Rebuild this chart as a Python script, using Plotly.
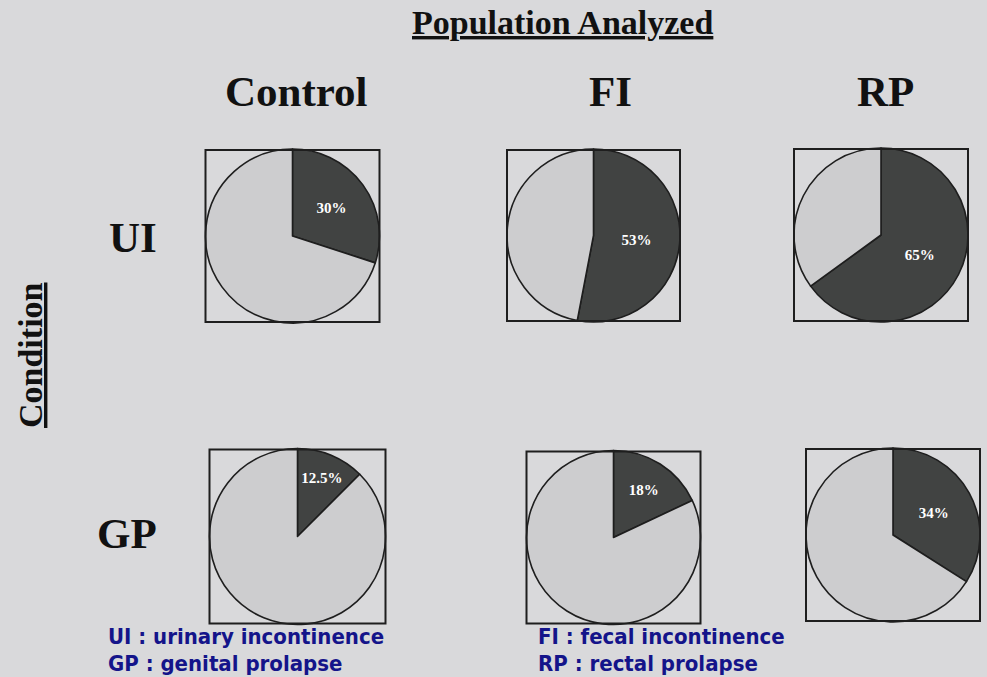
import plotly.graph_objects as go

# ---- data ----
populations = ["Control", "FI", "RP"]
conditions = ["UI", "GP"]
ui_pct = [30, 53, 65]
gp_pct = [12.5, 18, 34]
ui_labels = ["30%", "53%", "65%"]
gp_labels = ["12.5%", "18%", "34%"]
legend_left = ["UI : urinary incontinence", "GP : genital prolapse"]
legend_right = ["FI : fecal incontinence", "RP : rectal prolapse"]

# ---- layout geometry (pixels) ----
W, H = 987, 677
ui_centers = [(292.5, 236), (593.5, 235.5), (881, 235)]
gp_centers = [(297.5, 536.5), (613.5, 537.5), (893, 535)]
ui_r = [87, 86.5, 87]
gp_r = [88, 87, 87]

BG = "#d9d9db"
LIGHT = "#cdcdcf"
DARK = "#414342"
EDGE = "#1e1e1e"
NAVY = "#14148a"

fig = go.Figure()
shapes = []

def px_domain(cx, cy, r):
    return dict(x=[(cx - r) / W, (cx + r) / W], y=[1 - (cy + r) / H, 1 - (cy - r) / H])

for row_vals, row_labels, centers, radii in [(ui_pct, ui_labels, ui_centers, ui_r),
                                              (gp_pct, gp_labels, gp_centers, gp_r)]:
    for v, lab, (cx, cy), r in zip(row_vals, row_labels, centers, radii):
        fig.add_trace(go.Pie(
            values=[v, 100 - v],
            text=["<b>%s</b>" % lab, ""],
            textinfo="text",
            textposition="inside",
            insidetextorientation="horizontal",
            textfont=dict(family="Liberation Serif", size=15, color="white"),
            sort=False, direction="clockwise", rotation=0,
            marker=dict(colors=[DARK, LIGHT], line=dict(color=EDGE, width=1.6)),
            domain=px_domain(cx, cy, r),
            showlegend=False, hoverinfo="skip",
        ))
        shapes.append(dict(type="rect", xref="paper", yref="paper",
                           x0=(cx - r) / W, x1=(cx + r) / W,
                           y0=1 - (cy + r - 1) / H, y1=1 - (cy - r + 1) / H,
                           line=dict(color=EDGE, width=2), fillcolor="rgba(0,0,0,0)"))

annotations = []
def ann(text, x, y, size, color="#111", family="Liberation Serif", angle=0, anchor="center"):
    annotations.append(dict(text=text, x=x / W, y=1 - y / H, xref="paper", yref="paper",
                            showarrow=False, textangle=angle,
                            font=dict(family=family, size=size, color=color),
                            xanchor=anchor, yanchor="middle"))

ann("<b><u>Population Analyzed</u></b>", 562, 22, 34)
for name, x in zip(populations, [296, 610, 885]):
    ann("<b>%s</b>" % name, x, 92, 43)
for name, x, y in zip(conditions, [133, 127], [238, 533]):
    ann("<b>%s</b>" % name, x, y, 43)
ann("<b><u>Condition</u></b>", 30, 355, 34, angle=-90)

LEG_FONT = "DejaVu Sans Condensed"
for txt, y in zip(legend_left, [636, 663]):
    ann("<b>%s</b>" % txt, 106, y, 22, color=NAVY, family=LEG_FONT, anchor="left")
for txt, y in zip(legend_right, [636, 663]):
    ann("<b>%s</b>" % txt, 536, y, 22, color=NAVY, family=LEG_FONT, anchor="left")

fig.update_layout(width=W, height=H, margin=dict(l=0, r=0, t=0, b=0),
                  paper_bgcolor=BG, plot_bgcolor=BG,
                  shapes=shapes, annotations=annotations)
fig.write_html("out.html", config={"displayModeBar": False},
               post_script="document.body.style.margin='0';document.body.style.background='%s';" % BG)
